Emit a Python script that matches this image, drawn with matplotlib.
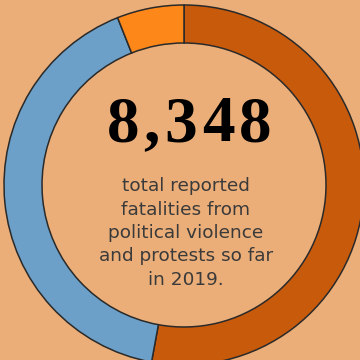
import matplotlib.pyplot as plt

# share of fatalities
labels = ["segment A", "segment B", "segment C"]
values = [4415, 3431, 502]
colors = ["#C85A0C", "#6CA0C8", "#FD8719"]

total_text = "8,348"
caption = "total reported\nfatalities from\npolitical violence\nand protests so far\nin 2019."

bg = "#EBAE78"

fig = plt.figure(figsize=(3.6, 3.6), dpi=100, facecolor=bg)
ax = fig.add_axes([0, 0, 1, 1])
ax.set_facecolor(bg)
ax.set_xlim(0, 360)
ax.set_ylim(0, 360)
ax.set_aspect("equal")
ax.axis("off")

ax.pie(values, colors=colors, radius=180, center=(184, 175),
       startangle=90, counterclock=False,
       wedgeprops=dict(width=38, edgecolor="#2a2a2a", linewidth=1.1))
ax.set_xlim(0, 360)
ax.set_ylim(0, 360)

# big number, drawn char by char to get the wide letter spacing
renderer = fig.canvas.get_renderer()
tracking = 4.6
pieces = []
for ch in total_text:
    t = ax.text(0, 235, ch, ha="left", va="center", fontsize=47,
                fontweight="bold", family="Liberation Serif", color="black")
    w = t.get_window_extent(renderer).width
    pieces.append((t, w))
total_w = sum(w for _, w in pieces) + tracking * (len(pieces) - 1)
x = 189 - total_w / 2
for t, w in pieces:
    t.set_x(x)
    x += w + tracking

ax.text(186, 127, caption, ha="center", va="center", fontsize=13.3,
        family="DejaVu Sans", color="#3a3a3a", linespacing=1.38)

fig.savefig("out.png", dpi=100, facecolor=bg)
